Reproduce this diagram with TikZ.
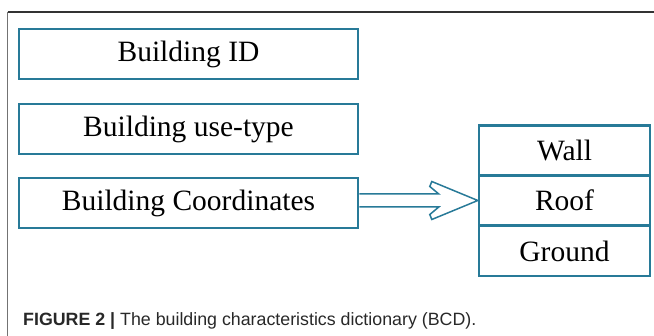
\documentclass[tikz,border=0pt]{standalone}
\usepackage{fontspec}
\setmainfont{Liberation Serif}
\setsansfont{Liberation Sans}
\usetikzlibrary{calc}
\definecolor{boxblue}{RGB}{40,122,152}
\definecolor{captext}{RGB}{40,40,40}
\begin{document}
\begin{tikzpicture}[x=1pt,y=-1pt,
  leftbox/.style={draw=boxblue,line width=2.6pt,minimum width=339pt,minimum height=50pt,inner sep=0pt,font=\fontsize{29.5}{31}\selectfont},
  rightbox/.style={draw=boxblue,line width=2.4pt,minimum width=171pt,minimum height=50pt,inner sep=0pt,font=\fontsize{29.5}{31}\selectfont},
  blockarrow/.style={draw=boxblue,line width=1.5pt,line join=miter,fill=white},
  frameline/.style={line width=1.1pt}]
\useasboundingbox (0,0) rectangle (654,336);
% frame
\coordinate (ftl) at (7.5,12);
\coordinate (ftr) at (654,12);
\coordinate (fbl) at (7.5,336);
\draw[frameline,draw=black!80] (ftl) -- (ftr);
\draw[frameline,draw=black!55,line width=1.4pt] (ftl) -- (fbl);
% left boxes
\node[leftbox] (b1) at (188.5,54) {Building ID};
\node[leftbox] (b2) at (188.5,129) {Building use-type};
\node[leftbox] (b3) at (188.5,203) {Building Coordinates};
% right stacked boxes
\node[rightbox] (wall) at (564.5,150.5) {Wall};
\node[rightbox] (roof) at (564.5,200.5) {Roof};
\node[rightbox] (ground) at (564.5,251) {Ground};
% block arrow
\coordinate (tip) at (roof.west);
\draw[blockarrow]
  ($(b3.east |- tip)+(0,-6.5)$) -- ($(tip)+(-39,-6.5)$) -- ($(tip)+(-48,-14)$)
  -- ($(tip)+(-46,-19)$) -- (tip) -- ($(tip)+(-46,19)$) -- ($(tip)+(-48,14)$)
  -- ($(tip)+(-39,6.5)$) -- ($(b3.east |- tip)+(0,6.5)$);
% caption
\node[anchor=base west,inner sep=0pt,text=captext,font=\sffamily\fontsize{17.8}{20}\selectfont] (cap) at (23,326)
  {\textbf{FIGURE 2 |} The building characteristics dictionary (BCD).};
\end{tikzpicture}
\end{document}
